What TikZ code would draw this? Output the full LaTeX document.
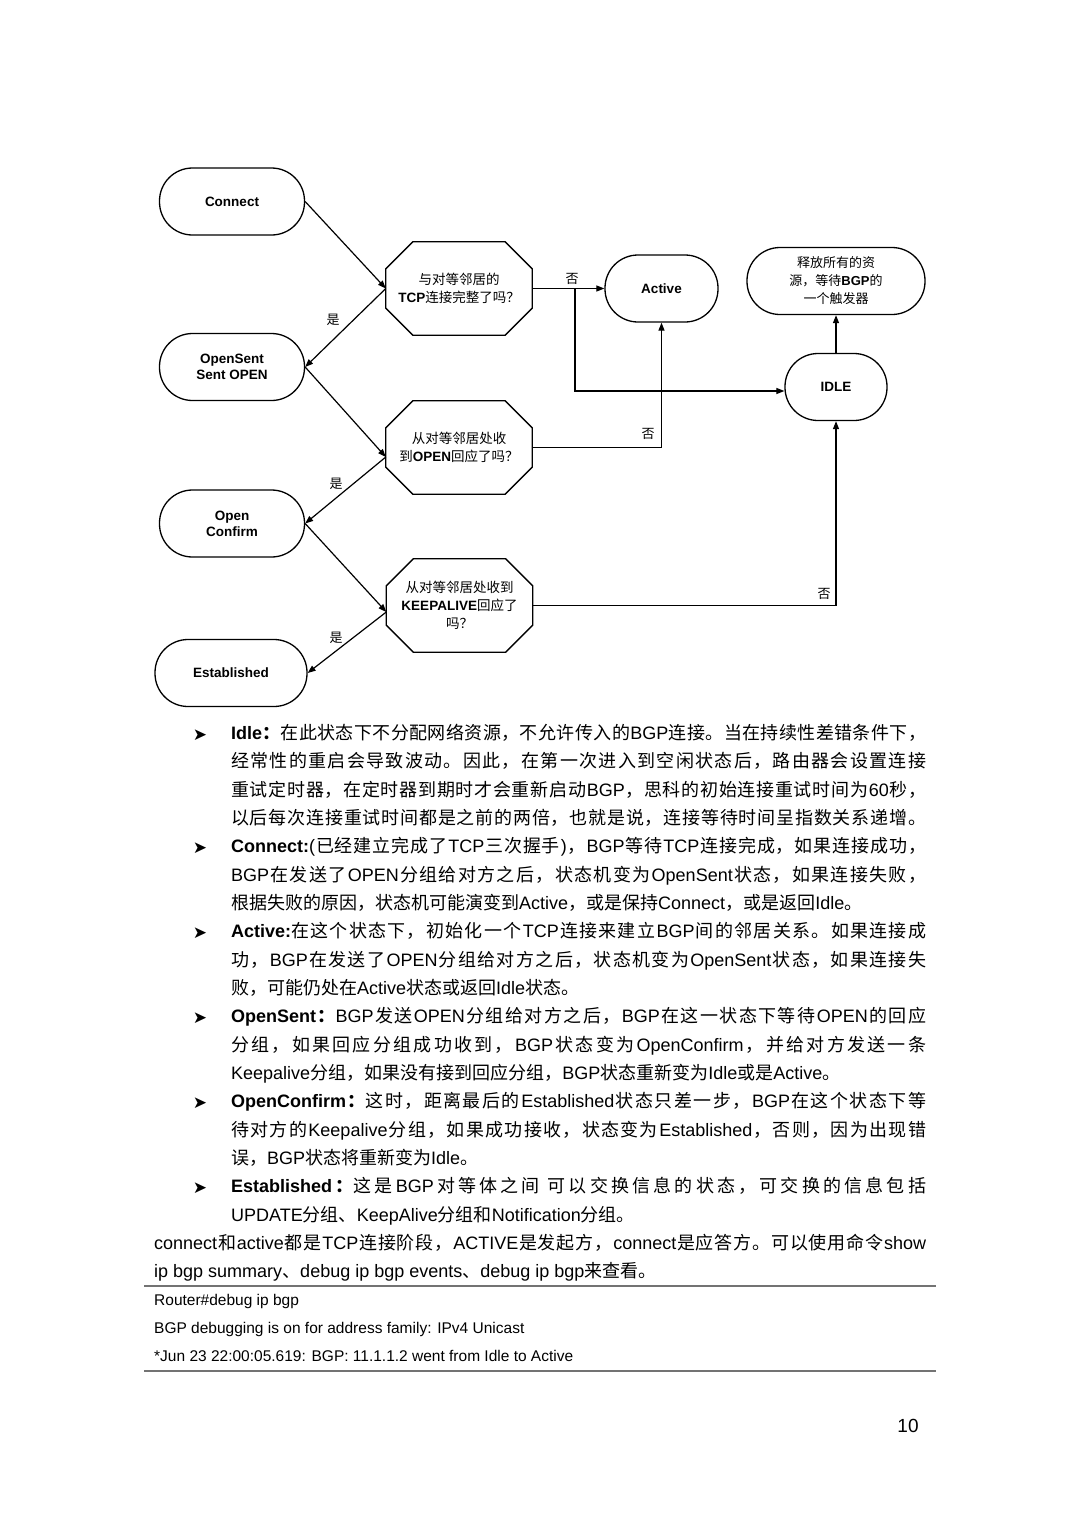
\documentclass[tikz,border=0pt]{standalone}
\usepackage{fontspec}
\setmainfont{Liberation Sans}
\newfontfamily\cjkfam{Noto Sans CJK SC}
\newfontfamily\dvfam{DejaVu Sans}
\usetikzlibrary{arrows.meta}
\XeTeXinterchartokenstate=1
\chardef\CJKcls=11
\newcount\cjkc
\def\setcjkrange#1#2{\cjkc=#1\relax\loop\XeTeXcharclass\cjkc=\CJKcls\advance\cjkc by 1\relax\ifnum\cjkc<#2\relax\repeat}
\setcjkrange{"4E00}{"A000}
\setcjkrange{"3000}{"3040}
\setcjkrange{"FF00}{"FFF0}
\XeTeXinterchartoks 0 \CJKcls={\hskip0pt plus 3pt\cjkfam}
\XeTeXinterchartoks 4095 \CJKcls={\cjkfam}
\XeTeXinterchartoks \CJKcls 0={\rmfamily\hskip0pt plus 3pt\relax}
\XeTeXinterchartoks \CJKcls 4095={\rmfamily}
\XeTeXinterchartoks \CJKcls \CJKcls={\hskip0pt plus 3pt\relax}
\newcommand\bodyfont{\fontsize{18}{28.33}\selectfont\parindent=0pt\tolerance=10000\hbadness=10000\relax}
\begin{document}
\begin{tikzpicture}[x=1pt,y=-1pt,
  st/.style={draw,line width=1.3pt,rounded corners=33pt,minimum height=67pt,inner sep=0pt,align=center,font=\fontsize{13.5}{16}\selectfont\bfseries},
  octbox/.style={minimum width=146pt,minimum height=93pt,inner sep=0pt,align=center,font=\fontsize{13.5}{18}\selectfont},
  octline/.style={line width=1.3pt},
  arr/.style={line width=1.2pt,-{Triangle[length=8pt,width=6pt]}},
  lab/.style={font=\fontsize{13}{13}\selectfont,inner sep=0pt},
  para/.style={anchor=base west,inner sep=0pt},
  bul/.style={anchor=base,inner sep=0pt,font=\dvfam\fontsize{17}{17}\selectfont},
  code/.style={anchor=base west,inner sep=0pt,font=\fontsize{15.5}{15.5}\selectfont},
  rule/.style={line width=1.5pt,black!55}]
\useasboundingbox (0,0) rectangle (1080,1526);
% state nodes
\node[st,minimum width=145pt] (con) at (232,201.5) {Connect};
\node[st,minimum width=145pt] (osn) at (232,367) {OpenSent\\Sent OPEN};
\node[st,minimum width=145pt] (ocf) at (232,523.5) {Open\\Confirm};
\node[st,minimum width=152pt] (est) at (231,673) {Established};
\node[st,minimum width=113pt] (act) at (661.5,288.5) {Active};
\node[st,minimum width=178pt,font=\fontsize{13}{18}\selectfont] (rel) at (836,281) {释放所有的资\\源，等待{\bfseries BGP}的\\一个触发器};
\node[st,minimum width=102pt] (idl) at (836,387) {IDLE};
% decision octagons
\node[octbox] (o1) at (459,288.5) {与对等邻居的\\{\bfseries TCP}连接完整了吗？};
\node[octbox] (o2) at (459,447.5) {从对等邻居处收\\到{\bfseries OPEN}回应了吗？};
\node[octbox] (o3) at (459.5,605.5) {从对等邻居处收到\\{\bfseries KEEPALIVE}回应了\\吗？};
\foreach \n in {o1,o2,o3}
  \draw[octline] ([xshift=27pt]\n.north west) -- ([xshift=-27pt]\n.north east) -- ([yshift=-27pt]\n.north east) -- ([yshift=27pt]\n.south east) -- ([xshift=-27pt]\n.south east) -- ([xshift=27pt]\n.south west) -- ([yshift=27pt]\n.south west) -- ([yshift=-27pt]\n.north west) -- cycle;
% connectors
\coordinate (o2w) at ([yshift=-9.5pt]o2.west);
\coordinate (o3w) at ([yshift=-6.5pt]o3.west);
\coordinate (br) at (575,288.5);
\draw[arr] (con.east) -- (o1.west);
\draw[arr] (o1.west) -- (osn.east);
\draw[arr] (osn.east) -- (o2w);
\draw[arr] (o2w) -- (ocf.east);
\draw[arr] (ocf.east) -- (o3w);
\draw[arr] (o3w) -- (est.east);
\draw[arr] (o1.east) -- (act.west);
\draw[arr] (br) |- ([yshift=-4pt]idl.west);
\draw[arr] (o2.east) -| (act.south);
\draw[arr] (o3.east) -| (idl.south);
\draw[arr] (idl.north) -- (rel.south);
% labels
\node[lab] (l1) at (333,320) {是};
\node[lab] (l2) at (336,484) {是};
\node[lab] (l3) at (336,638) {是};
\node[lab] (l4) at (572,279) {否};
\node[lab] (l5) at (648,434) {否};
\node[lab] (l6) at (824,594) {否};
% body text
\node[bul] (b1) at (200,740) {➤};
\node[para] (p1) at (231,739.5) {\parbox[t]{695pt}{\bodyfont\parfillskip=0pt
{\bfseries Idle：}在此状态下不分配网络资源，不允许传入的BGP连接。当在持续性差错条件下，\linebreak
经常性的重启会导致波动。因此，在第一次进入到空闲状态后，路由器会设置连接\linebreak
重试定时器，在定时器到期时才会重新启动BGP，思科的初始连接重试时间为60秒，\linebreak
以后每次连接重试时间都是之前的两倍，也就是说，连接等待时间呈指数关系递增。}};
\node[bul] (b2) at (200,853.3) {➤};
\node[para] (p2) at (231,852.8) {\parbox[t]{695pt}{\bodyfont
{\bfseries Connect:}(已经建立完成了TCP三次握手)，BGP等待TCP连接完成，如果连接成功，\linebreak
BGP在发送了OPEN分组给对方之后，状态机变为OpenSent状态，如果连接失败，\linebreak
根据失败的原因，状态机可能演变到Active，或是保持Connect，或是返回Idle。}};
\node[bul] (b3) at (200,938.3) {➤};
\node[para] (p3) at (231,937.8) {\parbox[t]{695pt}{\bodyfont
{\bfseries Active:}在这个状态下，初始化一个TCP连接来建立BGP间的邻居关系。如果连接成\linebreak
功，BGP在发送了OPEN分组给对方之后，状态机变为OpenSent状态，如果连接失\linebreak
败，可能仍处在Active状态或返回Idle状态。}};
\node[bul] (b4) at (200,1023.3) {➤};
\node[para] (p4) at (231,1022.8) {\parbox[t]{695pt}{\bodyfont
{\bfseries OpenSent：}BGP发送OPEN分组给对方之后，BGP在这一状态下等待OPEN的回应\linebreak
分组，如果回应分组成功收到，BGP状态变为OpenConfirm，并给对方发送一条\linebreak
Keepalive分组，如果没有接到回应分组，BGP状态重新变为Idle或是Active。}};
\node[bul] (b5) at (200,1108.3) {➤};
\node[para] (p5) at (231,1107.8) {\parbox[t]{695pt}{\bodyfont
{\bfseries OpenConfirm：}这时，距离最后的Established状态只差一步，BGP在这个状态下等\linebreak
待对方的Keepalive分组，如果成功接收，状态变为Established，否则，因为出现错\linebreak
误，BGP状态将重新变为Idle。}};
\node[bul] (b6) at (200,1193.3) {➤};
\node[para] (p6) at (231,1192.8) {\parbox[t]{695pt}{\bodyfont
{\bfseries Established：}这是BGP对等体之间 可以交换信息的状态，可交换的信息包括\linebreak
UPDATE分组、KeepAlive分组和Notification分组。}};
\node[para] (p7) at (154,1249.5) {\parbox[t]{772pt}{\bodyfont
connect和active都是TCP连接阶段，ACTIVE是发起方，connect是应答方。可以使用命令show\linebreak
ip bgp summary、debug ip bgp events、debug ip bgp来查看。}};
% code block
\draw[rule] (144,1286) -- (936,1286);
\node[code] (c1) at (154,1305.5) {Router\#debug ip bgp};
\node[code] (c2) at (154,1333.5) {BGP debugging is on for address family: IPv4 Unicast};
\node[code] (c3) at (154,1361.5) {*Jun 23 22:00:05.619: BGP: 11.1.1.2 went from Idle to Active};
\draw[rule] (144,1371) -- (936,1371);
\node[anchor=base,inner sep=0pt,font=\fontsize{19}{19}\selectfont] (pg) at (908,1432) {10};
\end{tikzpicture}
\end{document}
